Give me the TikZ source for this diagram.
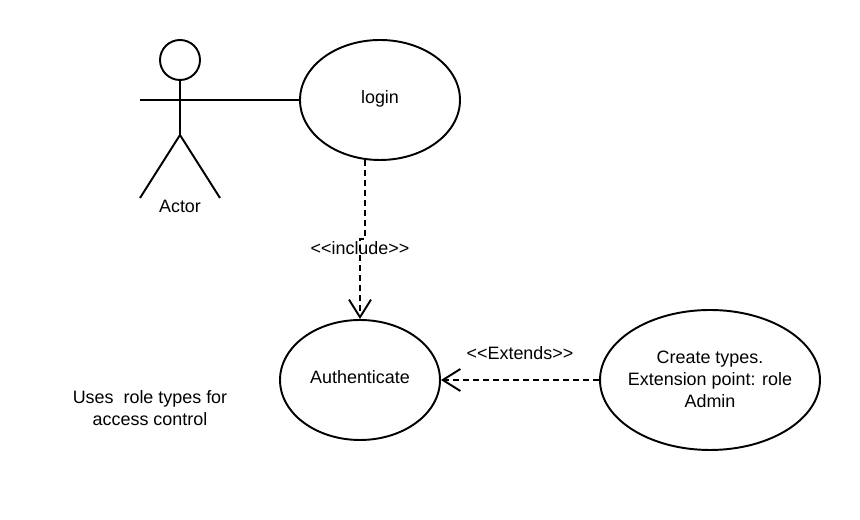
\documentclass[tikz,border=0pt]{standalone}
\usepackage{fontspec}
\setmainfont{Liberation Sans}
\usetikzlibrary{shapes.geometric,arrows.meta}
\tikzset{
  usecase/.style={draw,ellipse,line width=1.1pt,inner sep=0pt},
  stick/.style={line width=1.1pt},
  dep/.style={line width=1.1pt,dash pattern=on 3.4pt off 2.3pt,-{Straight Barb[length=10pt,width=12.5pt,line width=1.1pt]}},
  every node/.style={font=\fontsize{10.2}{12.6}\selectfont},
}
\begin{document}
\begin{tikzpicture}
        \useasboundingbox (0,0) rectangle (17.2,10.4);
        % actor
        \node[draw,circle,line width=1.1pt,minimum size=0.8cm,inner sep=0pt] at (3.6,9.2) (head) {};
        \coordinate (hip) at (3.6,7.7);
        \coordinate (armL) at (2.8,8.4);
        \coordinate (armR) at (4.4,8.4);
        \coordinate (footL) at (2.8,6.44);
        \coordinate (footR) at (4.4,6.44);
        \coordinate (hand) at (4.0,8.4);
        \node at (3.6,6.28) (actor) {Actor};
        \draw[stick] (head) -- (hip);
        \draw[line width=0.8pt] (armL) -- (armR);
        \draw[stick] (hip) -- (footL);
        \draw[stick] (hip) -- (footR);
        % use cases
        \node[usecase,minimum width=3.2cm,minimum height=2.4cm] at (7.6,8.4) (login) {};
        \node[usecase,minimum width=3.2cm,minimum height=2.4cm] at (7.2,2.8) (auth) {};
        \node[usecase,minimum width=4.4cm,minimum height=2.8cm] at (14.2,2.8) (create) {};
        % labels
        \node at (7.6,8.42) (logintext) {login};
        \node at (7.2,2.86) (authtext) {Authenticate};
        \node[align=center] at (14.2,2.82) (createtext) {Create types.\\Extension point: role\\Admin};
        \node at (7.2,5.44) (include) {<{}<include>{}>};
        \node at (10.4,3.34) (extends) {<{}<Extends>{}>};
        \node[align=center] at (3.0,2.24) (note) {Uses\ \ role types for\\access control};
        % connectors
        \coordinate (inclA) at (7.3,7.2);
        \coordinate (inclB) at (7.3,5.62);
        \coordinate (inclC) at (7.2,5.62);
        \draw[stick] (hand) -- (login.west);
        \draw[dep] (inclA) -- (inclB) -- (inclC) -- (auth.north);
        \draw[dep] (create.west) -- (auth.east);
\end{tikzpicture}
\end{document}
